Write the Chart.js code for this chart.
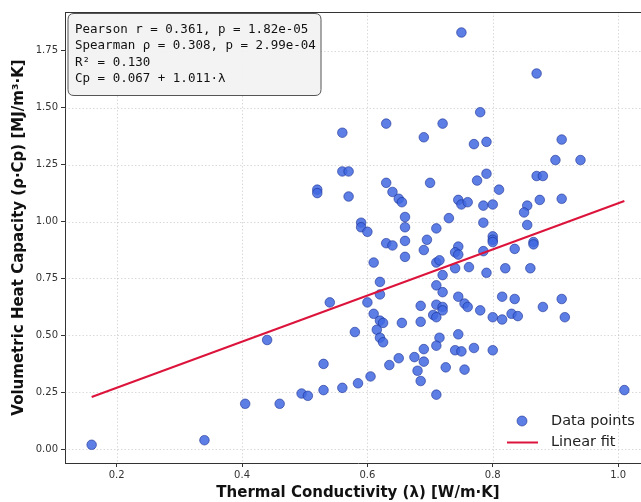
<!DOCTYPE html>
<html>
<head>
<meta charset="utf-8">
<script src="https://cdn.jsdelivr.net/npm/chart.js@4.4.0/dist/chart.umd.min.js"></script>
<style>
  html, body { margin: 0; padding: 0; background: #fff; overflow: hidden; }
  #wrap { width: 641px; height: 502px; overflow: hidden; }
  canvas { display: block; }
</style>
</head>
<body>
<div id="wrap"><canvas id="chart" width="660" height="502"></canvas></div>
<script>
// thermal conductivity (x) and volumetric heat capacity (y)
const lambdaVals = [
  0.16, 0.34, 0.405, 0.46, 0.44, 0.495, 0.505, 0.53, 0.56, 0.585, 0.605, 0.685, 0.71, 1.01,
  0.56, 0.63, 0.72, 0.69, 0.56, 0.57, 0.52, 0.52, 0.57, 0.63, 0.70, 0.64, 0.65, 0.655, 0.745, 0.75,
  0.76, 0.66, 0.73, 0.59, 0.59, 0.60, 0.66, 0.71, 0.63, 0.64, 0.66, 0.695, 0.745, 0.74, 0.745, 0.69,
  0.66, 0.61, 0.71, 0.715,
  0.74, 0.762, 0.72, 0.62, 0.71, 0.72, 0.62, 0.54, 0.60, 0.685, 0.71, 0.72, 0.72, 0.745, 0.755, 0.76,
  0.61, 0.705, 0.71, 0.62, 0.625, 0.655, 0.685, 0.58, 0.615, 0.62, 0.625, 0.715, 0.745, 0.71, 0.69,
  0.74, 0.75, 0.53, 0.65, 0.675, 0.69, 0.635, 0.68, 0.725, 0.755,
  0.75, 0.87, 0.78, 0.77, 0.79, 0.91, 0.90, 0.94, 0.79, 0.775, 0.87, 0.88, 0.81, 0.785, 0.80, 0.855,
  0.85, 0.875, 0.91, 0.785, 0.855, 0.80, 0.80, 0.80, 0.865, 0.865, 0.835, 0.785,
  0.79, 0.82, 0.86, 0.78, 0.80, 0.815, 0.835, 0.815, 0.83, 0.84, 0.88, 0.91, 0.915, 0.77, 0.80
];
const cpVals = [
  0.02, 0.04, 0.20, 0.20, 0.48, 0.245, 0.235, 0.26, 0.27, 0.29, 0.32, 0.30, 0.24, 0.26,
  1.39, 1.43, 1.43, 1.37, 1.22, 1.22, 1.14, 1.125, 1.11, 1.17, 1.17, 1.13, 1.10, 1.085, 1.095, 1.075,
  1.085, 1.02, 1.015, 0.995, 0.975, 0.955, 0.975, 0.97, 0.905, 0.895, 0.915, 0.92, 0.89, 0.865, 0.855, 0.875,
  0.845, 0.82, 0.82, 0.83,
  0.795, 0.80, 0.765, 0.735, 0.72, 0.69, 0.68, 0.645, 0.645, 0.63, 0.635, 0.625, 0.61, 0.67, 0.64, 0.625,
  0.595, 0.59, 0.58, 0.565, 0.555, 0.555, 0.56, 0.515, 0.525, 0.49, 0.47, 0.49, 0.505, 0.455, 0.44,
  0.435, 0.43, 0.375, 0.40, 0.405, 0.385, 0.37, 0.345, 0.36, 0.35,
  1.83, 1.65, 1.48, 1.34, 1.35, 1.36, 1.27, 1.27, 1.21, 1.18, 1.20, 1.20, 1.14, 1.07, 1.075, 1.07,
  1.04, 1.095, 1.10, 0.995, 0.985, 0.935, 0.92, 0.91, 0.91, 0.90, 0.88, 0.87,
  0.775, 0.795, 0.795, 0.61, 0.58, 0.67, 0.66, 0.57, 0.595, 0.585, 0.625, 0.66, 0.58, 0.445, 0.435
];

// end points of the fitted line
const fitX = [0.16, 1.01];
const fitY = [0.23, 1.09];

const xTicks = [0.2, 0.4, 0.6, 0.8, 1.0];
const yTicks = [0, 0.25, 0.5, 0.75, 1.0, 1.25, 1.5, 1.75];

const statsLines = [
  'Pearson r = 0.361, p = 1.82e-05',
  'Spearman \u03c1 = 0.308, p = 2.99e-04',
  'R\u00b2 = 0.130',
  'Cp = 0.067 + 1.011\u00b7\u03bb'
];

const pointFill = 'rgba(65,105,225,0.85)';
const pointEdge = 'rgba(20,40,140,0.7)';
const fitColor = '#DC143C';

// dotted grid, top spine, stats box and legend
const extras = {
  id: 'extras',
  beforeDatasetsDraw(chart) {
    const { ctx, chartArea: a, scales: { x, y } } = chart;
    ctx.save();
    ctx.strokeStyle = 'rgba(150,150,150,0.45)';
    ctx.lineWidth = 0.8;
    ctx.setLineDash([1.5, 2]);
    xTicks.forEach(v => {
      const px = Math.round(x.getPixelForValue(v)) + 0.5;
      ctx.beginPath(); ctx.moveTo(px, a.top); ctx.lineTo(px, a.bottom); ctx.stroke();
    });
    yTicks.forEach(v => {
      const py = Math.round(y.getPixelForValue(v)) + 0.5;
      ctx.beginPath(); ctx.moveTo(a.left, py); ctx.lineTo(a.right, py); ctx.stroke();
    });
    ctx.restore();
  },
  afterDraw(chart) {
    const { ctx, chartArea: a } = chart;
    ctx.save();
    // top spine
    ctx.strokeStyle = '#333';
    ctx.lineWidth = 1;
    ctx.beginPath();
    ctx.moveTo(a.left, Math.round(a.top) + 0.5);
    ctx.lineTo(a.right, Math.round(a.top) + 0.5);
    ctx.stroke();

    // stats box
    const bx = a.left + 3, by = a.top + 1.5, bw = 253, bh = 82, r = 6;
    ctx.beginPath();
    ctx.moveTo(bx + r, by);
    ctx.lineTo(bx + bw - r, by);
    ctx.quadraticCurveTo(bx + bw, by, bx + bw, by + r);
    ctx.lineTo(bx + bw, by + bh - r);
    ctx.quadraticCurveTo(bx + bw, by + bh, bx + bw - r, by + bh);
    ctx.lineTo(bx + r, by + bh);
    ctx.quadraticCurveTo(bx, by + bh, bx, by + bh - r);
    ctx.lineTo(bx, by + r);
    ctx.quadraticCurveTo(bx, by, bx + r, by);
    ctx.closePath();
    ctx.fillStyle = 'rgba(242,242,242,0.95)';
    ctx.fill();
    ctx.strokeStyle = '#555';
    ctx.lineWidth = 1;
    ctx.stroke();

    ctx.fillStyle = '#111';
    ctx.font = '12.5px "DejaVu Sans Mono", monospace';
    ctx.textBaseline = 'middle';
    ctx.textAlign = 'left';
    statsLines.forEach((s, i) => {
      ctx.fillText(s, bx + 7, by + 16 + i * 16.5);
    });

    // legend (bottom right)
    const lx = a.right - 129, ly1 = a.bottom - 42, ly2 = a.bottom - 20.5;
    ctx.beginPath();
    ctx.arc(lx, ly1, 5, 0, Math.PI * 2);
    ctx.fillStyle = pointFill;
    ctx.fill();
    ctx.strokeStyle = pointEdge;
    ctx.lineWidth = 0.8;
    ctx.stroke();
    ctx.beginPath();
    ctx.moveTo(lx - 15, ly2);
    ctx.lineTo(lx + 16, ly2);
    ctx.strokeStyle = fitColor;
    ctx.lineWidth = 2;
    ctx.stroke();
    ctx.fillStyle = '#222';
    ctx.font = '14.5px "DejaVu Sans", sans-serif';
    ctx.fillText(chart.data.datasets[1].label, lx + 29, ly1);
    ctx.fillText(chart.data.datasets[0].label, lx + 29, ly2);
    ctx.restore();
  }
};

const tickFont = { family: 'DejaVu Sans', size: 10 };
const titleFont = { family: 'DejaVu Sans', size: 15, weight: 'bold' };

new Chart(document.getElementById('chart'), {
  type: 'scatter',
  data: {
    datasets: [
      {
        label: 'Linear fit',
        data: fitX.map((x, i) => ({ x, y: fitY[i] })),
        showLine: true,
        borderColor: fitColor,
        borderWidth: 2,
        pointRadius: 0,
        fill: false
      },
      {
        label: 'Data points',
        data: lambdaVals.map((x, i) => ({ x, y: cpVals[i] })),
        backgroundColor: pointFill,
        borderColor: pointEdge,
        borderWidth: 0.8,
        pointRadius: 4.8
      }
    ]
  },
  options: {
    responsive: false,
    animation: false,
    devicePixelRatio: 1,
    layout: { padding: { left: 0, right: 9, top: 12, bottom: 0 } },
    plugins: { legend: { display: false }, tooltip: { enabled: false } },
    scales: {
      x: {
        type: 'linear',
        min: 0.1175,
        max: 1.0525,
        afterFit: s => { s.height = 39; },
        afterBuildTicks: s => { s.ticks = xTicks.map(v => ({ value: v })); },
        ticks: { font: tickFont, color: '#333', padding: 2, callback: v => v.toFixed(1) },
        grid: { drawOnChartArea: false, drawTicks: true, tickLength: 4, tickColor: '#333' },
        border: { color: '#333', width: 1 },
        title: {
          display: true,
          text: 'Thermal Conductivity (\u03bb) [W/m\u00b7K]',
          font: titleFont,
          color: '#111',
          padding: { top: 0, bottom: 0 }
        }
      },
      y: {
        type: 'linear',
        min: -0.06,
        max: 1.92,
        afterFit: s => { s.width = 65; },
        afterBuildTicks: s => { s.ticks = yTicks.map(v => ({ value: v })); },
        ticks: { font: tickFont, color: '#333', padding: 3, callback: v => v.toFixed(2) },
        grid: { drawOnChartArea: false, drawTicks: true, tickLength: 4, tickColor: '#333' },
        border: { color: '#333', width: 1 },
        title: {
          display: true,
          text: 'Volumetric Heat Capacity (\u03c1\u00b7Cp) [MJ/m\u00b3\u00b7K]',
          font: titleFont,
          color: '#111',
          padding: { top: 10, bottom: 0 }
        }
      }
    }
  },
  plugins: [extras]
});
</script>
</body>
</html>
